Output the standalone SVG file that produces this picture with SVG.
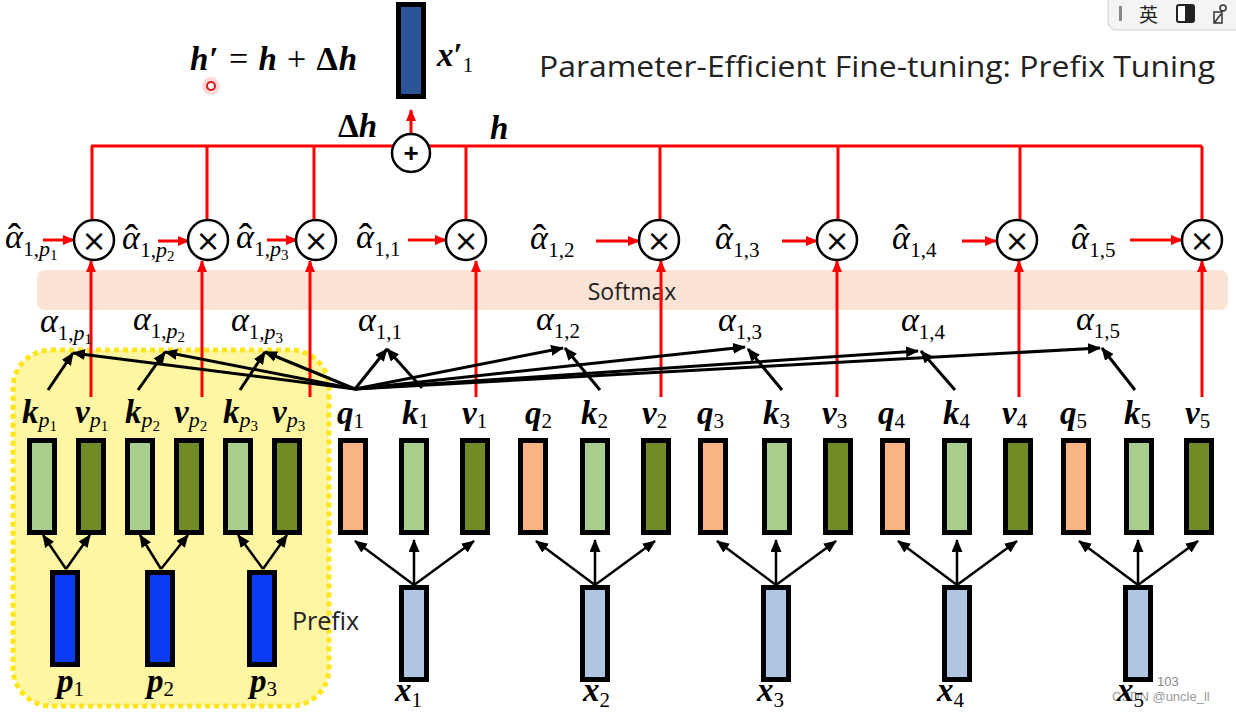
<svg xmlns="http://www.w3.org/2000/svg" width="1236" height="714" viewBox="0 0 1236 714">
<defs>
<style>
.bx{stroke:#000;stroke-width:5}
.q{fill:#fab383}.k{fill:#a8cf8e}.v{fill:#718b25}.x{fill:#aec6e4}.p{fill:#0a3cf5}
.m{font-family:"Liberation Serif",serif;font-weight:bold;font-style:italic;font-size:33px;fill:#000}
.s{font-family:"Liberation Serif",serif;font-weight:normal;font-style:normal;font-size:21px}
.si{font-family:"Liberation Serif",serif;font-weight:normal;font-style:italic;font-size:22px}
.ss{font-family:"Liberation Serif",serif;font-weight:normal;font-style:normal;font-size:15px}
.al{font-family:"Liberation Serif",serif;font-style:italic;font-size:34px;fill:#000}
.hat{font-family:"Liberation Serif",serif;font-style:normal;font-size:40px}
.red{stroke:#f00;stroke-width:3;fill:none}
.blk{stroke:#000;stroke-width:3;fill:none}
.mul{fill:#fff;stroke:#000;stroke-width:2.5}
.mx{font-family:"DejaVu Sans",sans-serif;font-size:30px;fill:#000;text-anchor:middle}
.sans{font-family:"Open Sans","Liberation Sans",sans-serif;fill:#222}
</style>
<marker id="ah" markerUnits="userSpaceOnUse" markerWidth="13" markerHeight="11" refX="12" refY="5.5" orient="auto"><path d="M0,0 L13,5.5 L0,11 z" fill="#000"/></marker>
<marker id="ar" markerUnits="userSpaceOnUse" markerWidth="12" markerHeight="10" refX="11" refY="5" orient="auto"><path d="M0,0 L12,5 L0,10 z" fill="#f00"/></marker>
</defs>
<rect width="1236" height="714" fill="#fff"/>

<!-- IME toolbar -->
<g id="ime">
<rect x="1108" y="-10" width="140" height="40" rx="8" fill="#f4f4f4" stroke="#cfcfcf"/>
<rect x="1119" y="6" width="3" height="15" fill="#8a8a8a"/>
<text x="1139" y="22" font-family="'Noto Sans CJK SC',sans-serif" font-size="19" fill="#222">英</text>
<rect x="1177" y="5" width="17" height="17" rx="2" fill="#fff" stroke="#222" stroke-width="2"/>
<rect x="1185" y="5" width="9" height="17" fill="#222"/>
<circle cx="1223" cy="8" r="3" fill="none" stroke="#333" stroke-width="1.5"/>
<path d="M1214,23 L1214,12 L1222,12 L1222,23 z M1215,22 L1221,14" fill="none" stroke="#333" stroke-width="1.5"/>
</g>

<!-- title and formula -->
<text class="sans" x="539" y="77" font-size="29" textLength="676" lengthAdjust="spacingAndGlyphs">Parameter-Efficient Fine-tuning: Prefix Tuning</text>
<text x="190" y="70" font-family="Liberation Serif,serif" font-size="34" fill="#000" textLength="167" lengthAdjust="spacing"><tspan class="m" font-size="34">h</tspan><tspan font-weight="bold">′</tspan> = <tspan class="m" font-size="34">h</tspan> + <tspan font-weight="bold">Δ</tspan><tspan class="m" font-size="34">h</tspan></text>
<circle cx="211" cy="86" r="9" fill="#f00" opacity="0.15"/>
<circle cx="211" cy="86" r="4" fill="#fff" stroke="#e01818" stroke-width="2"/>

<!-- softmax & prefix backgrounds -->
<g id="softmax">
<rect x="37" y="270" width="1191" height="40" rx="8" fill="#fbe4d5"/>
<text class="sans" x="632" y="300" font-size="23" text-anchor="middle">Softmax</text>
</g>
<g id="prefix">
<rect x="13" y="350" width="316" height="356" rx="38" fill="#fff6a3" stroke="#ffe51a" stroke-width="5" stroke-dasharray="5 4"/>
<text class="sans" x="292" y="630" font-size="25">Prefix</text>
</g>

<!-- connectors -->
<g id="connectors">
<path class="red" d="M91,146 H1202 M92,146 V220 M207,146 V220 M314,146 V220 M466,146 V220 M660,146 V220 M838,146 V220 M1020,146 V220 M1202,146 V220"/>
<g class="red" marker-end="url(#ar)">
<line x1="411" y1="134" x2="411" y2="110"/>
<line x1="91" y1="397" x2="91" y2="261"/>
<line x1="202" y1="397" x2="202" y2="261"/>
<line x1="310" y1="397" x2="310" y2="261"/>
<line x1="476" y1="397" x2="476" y2="261"/>
<line x1="661" y1="397" x2="661" y2="261"/>
<line x1="837" y1="397" x2="837" y2="261"/>
<line x1="1019" y1="397" x2="1019" y2="261"/>
<line x1="1202" y1="397" x2="1202" y2="261"/>
<line x1="43" y1="240" x2="74" y2="240"/>
<line x1="158" y1="241" x2="189" y2="241"/>
<line x1="267" y1="240" x2="297" y2="240"/>
<line x1="408" y1="240" x2="446" y2="240"/>
<line x1="596" y1="241" x2="639" y2="241"/>
<line x1="782" y1="241" x2="817" y2="241"/>
<line x1="962" y1="241" x2="996" y2="241"/>
<line x1="1130" y1="240" x2="1182" y2="240"/>
</g>
<g class="blk" marker-end="url(#ah)">
<line x1="355" y1="389" x2="73" y2="353"/>
<line x1="355" y1="389" x2="165" y2="352"/>
<line x1="355" y1="389" x2="265" y2="352"/>
<line x1="355" y1="389" x2="387" y2="349"/>
<line x1="355" y1="389" x2="563" y2="348"/>
<line x1="355" y1="389" x2="745" y2="347"/>
<line x1="355" y1="389" x2="918" y2="351"/>
<line x1="355" y1="389" x2="1100" y2="348"/>
<line x1="48" y1="390" x2="73" y2="353"/>
<line x1="138" y1="390" x2="165" y2="352"/>
<line x1="240" y1="390" x2="265" y2="352"/>
<line x1="422" y1="388" x2="387" y2="349"/>
<line x1="600" y1="390" x2="565" y2="348"/>
<line x1="782" y1="390" x2="748" y2="349"/>
<line x1="955" y1="390" x2="921" y2="351"/>
<line x1="1135" y1="390" x2="1102" y2="348"/>
</g>
<g stroke="#000" stroke-width="2.5" fill="none" marker-end="url(#ah)">
<line x1="66" y1="569" x2="43" y2="535"/>
<line x1="66" y1="569" x2="90" y2="535"/>
<line x1="161" y1="569" x2="140" y2="535"/>
<line x1="161" y1="569" x2="188" y2="535"/>
<line x1="263" y1="569" x2="238" y2="535"/>
<line x1="263" y1="569" x2="287" y2="535"/>
<line x1="414" y1="585" x2="355" y2="541"/>
<line x1="414" y1="585" x2="414" y2="540"/>
<line x1="414" y1="585" x2="474" y2="541"/>
<line x1="595" y1="585" x2="536" y2="541"/>
<line x1="595" y1="585" x2="595" y2="540"/>
<line x1="595" y1="585" x2="655" y2="541"/>
<line x1="776" y1="585" x2="717" y2="541"/>
<line x1="776" y1="585" x2="776" y2="540"/>
<line x1="776" y1="585" x2="836" y2="541"/>
<line x1="957" y1="585" x2="898" y2="541"/>
<line x1="957" y1="585" x2="957" y2="540"/>
<line x1="957" y1="585" x2="1017" y2="541"/>
<line x1="1138" y1="585" x2="1079" y2="541"/>
<line x1="1138" y1="585" x2="1138" y2="540"/>
<line x1="1138" y1="585" x2="1198" y2="541"/>
</g>
</g>

<!-- output node -->
<g id="xout">
<rect x="398.5" y="4.5" width="25" height="92" fill="#2b5597" class="bx"/>
<text class="m" x="437" y="66">x<tspan font-weight="bold" font-style="normal">′</tspan><tspan class="s" dy="6">1</tspan></text>
</g>
<g id="plus">
<circle cx="411" cy="153" r="19" class="mul"/>
<text x="411" y="162" font-family="Liberation Sans,sans-serif" font-weight="bold" font-size="26" text-anchor="middle">+</text>
</g>
<text class="m" x="338" y="137"><tspan font-style="normal">Δ</tspan>h</text>
<text class="m" x="490" y="139">h</text>

<!-- multiply nodes -->
<g id="mul1"><circle cx="94" cy="240" r="20" class="mul"/><text class="mx" x="94" y="251">×</text></g>
<g id="mul2"><circle cx="208" cy="240" r="20" class="mul"/><text class="mx" x="208" y="251">×</text></g>
<g id="mul3"><circle cx="316" cy="240" r="20" class="mul"/><text class="mx" x="316" y="251">×</text></g>
<g id="mul4"><circle cx="466" cy="240" r="20" class="mul"/><text class="mx" x="466" y="251">×</text></g>
<g id="mul5"><circle cx="659" cy="240" r="20" class="mul"/><text class="mx" x="659" y="251">×</text></g>
<g id="mul6"><circle cx="837" cy="240" r="20" class="mul"/><text class="mx" x="837" y="251">×</text></g>
<g id="mul7"><circle cx="1017" cy="240" r="20" class="mul"/><text class="mx" x="1017" y="251">×</text></g>
<g id="mul8"><circle cx="1202" cy="240" r="20" class="mul"/><text class="mx" x="1202" y="251">×</text></g>

<!-- alpha-hat labels (hat set within the same text) -->
<g id="ahat">
<text class="al" x="5" y="248">α<tspan class="hat" dx="-15" dy="3">ˆ</tspan><tspan class="s" dx="2" dy="5">1,</tspan><tspan class="si">p</tspan><tspan class="ss" dy="4">1</tspan></text>
<text class="al" x="122" y="249">α<tspan class="hat" dx="-15" dy="3">ˆ</tspan><tspan class="s" dx="2" dy="5">1,</tspan><tspan class="si">p</tspan><tspan class="ss" dy="4">2</tspan></text>
<text class="al" x="236" y="248">α<tspan class="hat" dx="-15" dy="3">ˆ</tspan><tspan class="s" dx="2" dy="5">1,</tspan><tspan class="si">p</tspan><tspan class="ss" dy="4">3</tspan></text>
<text class="al" x="356" y="248">α<tspan class="hat" dx="-15" dy="3">ˆ</tspan><tspan class="s" dx="2" dy="5">1,1</tspan></text>
<text class="al" x="530" y="249">α<tspan class="hat" dx="-15" dy="3">ˆ</tspan><tspan class="s" dx="2" dy="5">1,2</tspan></text>
<text class="al" x="715" y="249">α<tspan class="hat" dx="-15" dy="3">ˆ</tspan><tspan class="s" dx="2" dy="5">1,3</tspan></text>
<text class="al" x="892" y="249">α<tspan class="hat" dx="-15" dy="3">ˆ</tspan><tspan class="s" dx="2" dy="5">1,4</tspan></text>
<text class="al" x="1071" y="249">α<tspan class="hat" dx="-15" dy="3">ˆ</tspan><tspan class="s" dx="2" dy="5">1,5</tspan></text>
</g>

<!-- alpha labels -->
<g id="alpha">
<text class="al" x="40" y="332">α<tspan class="s" dy="8">1,</tspan><tspan class="si">p</tspan><tspan class="ss" dy="4">1</tspan></text>
<text class="al" x="133" y="330">α<tspan class="s" dy="8">1,</tspan><tspan class="si">p</tspan><tspan class="ss" dy="4">2</tspan></text>
<text class="al" x="231" y="331">α<tspan class="s" dy="8">1,</tspan><tspan class="si">p</tspan><tspan class="ss" dy="4">3</tspan></text>
<text class="al" x="358" y="331">α<tspan class="s" dy="8">1,1</tspan></text>
<text class="al" x="536" y="330">α<tspan class="s" dy="8">1,2</tspan></text>
<text class="al" x="718" y="331">α<tspan class="s" dy="8">1,3</tspan></text>
<text class="al" x="901" y="331">α<tspan class="s" dy="8">1,4</tspan></text>
<text class="al" x="1076" y="330">α<tspan class="s" dy="8">1,5</tspan></text>
</g>

<!-- prefix key/value nodes -->
<g id="kp1"><rect x="29.5" y="440.5" width="25" height="92" class="bx k"/><text class="m" x="22" y="423">k<tspan class="si" dy="4">p</tspan><tspan class="ss" dy="4">1</tspan></text></g>
<g id="vp1"><rect x="78.5" y="440.5" width="25" height="92" class="bx v"/><text class="m" x="75" y="423">v<tspan class="si" dy="4">p</tspan><tspan class="ss" dy="4">1</tspan></text></g>
<g id="kp2"><rect x="127.5" y="440.5" width="25" height="92" class="bx k"/><text class="m" x="125" y="423">k<tspan class="si" dy="4">p</tspan><tspan class="ss" dy="4">2</tspan></text></g>
<g id="vp2"><rect x="176.5" y="440.5" width="25" height="92" class="bx v"/><text class="m" x="174" y="423">v<tspan class="si" dy="4">p</tspan><tspan class="ss" dy="4">2</tspan></text></g>
<g id="kp3"><rect x="225.5" y="440.5" width="25" height="92" class="bx k"/><text class="m" x="223" y="423">k<tspan class="si" dy="4">p</tspan><tspan class="ss" dy="4">3</tspan></text></g>
<g id="vp3"><rect x="274.5" y="440.5" width="25" height="92" class="bx v"/><text class="m" x="272" y="423">v<tspan class="si" dy="4">p</tspan><tspan class="ss" dy="4">3</tspan></text></g>

<!-- prefix nodes -->
<g id="p1"><rect x="52.5" y="572.5" width="25" height="92" class="bx p"/><text class="m" x="57" y="692">p<tspan class="s" dy="4">1</tspan></text></g>
<g id="p2"><rect x="147.5" y="572.5" width="25" height="92" class="bx p"/><text class="m" x="147" y="692">p<tspan class="s" dy="4">2</tspan></text></g>
<g id="p3"><rect x="249.5" y="572.5" width="25" height="92" class="bx p"/><text class="m" x="250" y="692">p<tspan class="s" dy="4">3</tspan></text></g>

<!-- token q/k/v nodes -->
<g id="q1"><rect x="340.5" y="440.5" width="25" height="92" class="bx q"/><text class="m" x="337" y="424">q<tspan class="s" dy="4">1</tspan></text></g>
<g id="k1"><rect x="401.5" y="440.5" width="25" height="92" class="bx k"/><text class="m" x="402" y="424">k<tspan class="s" dy="4">1</tspan></text></g>
<g id="v1"><rect x="462.5" y="440.5" width="25" height="92" class="bx v"/><text class="m" x="462" y="424">v<tspan class="s" dy="4">1</tspan></text></g>
<g id="q2"><rect x="520.5" y="440.5" width="25" height="92" class="bx q"/><text class="m" x="525" y="424">q<tspan class="s" dy="4">2</tspan></text></g>
<g id="k2"><rect x="582.5" y="440.5" width="25" height="92" class="bx k"/><text class="m" x="581" y="424">k<tspan class="s" dy="4">2</tspan></text></g>
<g id="v2"><rect x="643.5" y="440.5" width="25" height="92" class="bx v"/><text class="m" x="642" y="424">v<tspan class="s" dy="4">2</tspan></text></g>
<g id="q3"><rect x="700.5" y="440.5" width="25" height="92" class="bx q"/><text class="m" x="697" y="424">q<tspan class="s" dy="4">3</tspan></text></g>
<g id="k3"><rect x="764.5" y="440.5" width="25" height="92" class="bx k"/><text class="m" x="763" y="424">k<tspan class="s" dy="4">3</tspan></text></g>
<g id="v3"><rect x="825.5" y="440.5" width="25" height="92" class="bx v"/><text class="m" x="822" y="424">v<tspan class="s" dy="4">3</tspan></text></g>
<g id="q4"><rect x="882.5" y="440.5" width="25" height="92" class="bx q"/><text class="m" x="878" y="424">q<tspan class="s" dy="4">4</tspan></text></g>
<g id="k4"><rect x="944.5" y="440.5" width="25" height="92" class="bx k"/><text class="m" x="943" y="424">k<tspan class="s" dy="4">4</tspan></text></g>
<g id="v4"><rect x="1005.5" y="440.5" width="25" height="92" class="bx v"/><text class="m" x="1002" y="424">v<tspan class="s" dy="4">4</tspan></text></g>
<g id="q5"><rect x="1063.5" y="440.5" width="25" height="92" class="bx q"/><text class="m" x="1060" y="424">q<tspan class="s" dy="4">5</tspan></text></g>
<g id="k5"><rect x="1126.5" y="440.5" width="25" height="92" class="bx k"/><text class="m" x="1124" y="424">k<tspan class="s" dy="4">5</tspan></text></g>
<g id="v5"><rect x="1186.5" y="440.5" width="25" height="92" class="bx v"/><text class="m" x="1185" y="424">v<tspan class="s" dy="4">5</tspan></text></g>

<!-- watermark -->
<text x="1157" y="686" font-family="Liberation Sans,sans-serif" font-size="13" fill="#888">103</text>
<text x="1112" y="701" font-family="Liberation Sans,sans-serif" font-size="13" fill="#9a9a9a">CSDN @uncle_ll</text>

<!-- input nodes -->
<g id="x1"><rect x="401.5" y="587.5" width="25" height="92" class="bx x"/><text class="m" x="395" y="701">x<tspan class="s" dy="6">1</tspan></text></g>
<g id="x2"><rect x="582.5" y="587.5" width="25" height="92" class="bx x"/><text class="m" x="583" y="701">x<tspan class="s" dy="6">2</tspan></text></g>
<g id="x3"><rect x="763.5" y="587.5" width="25" height="92" class="bx x"/><text class="m" x="757" y="701">x<tspan class="s" dy="6">3</tspan></text></g>
<g id="x4"><rect x="944.5" y="587.5" width="25" height="92" class="bx x"/><text class="m" x="937" y="701">x<tspan class="s" dy="6">4</tspan></text></g>
<g id="x5"><rect x="1125.5" y="587.5" width="25" height="92" class="bx x"/><text class="m" x="1117" y="701">x<tspan class="s" dy="6">5</tspan></text></g>
</svg>
